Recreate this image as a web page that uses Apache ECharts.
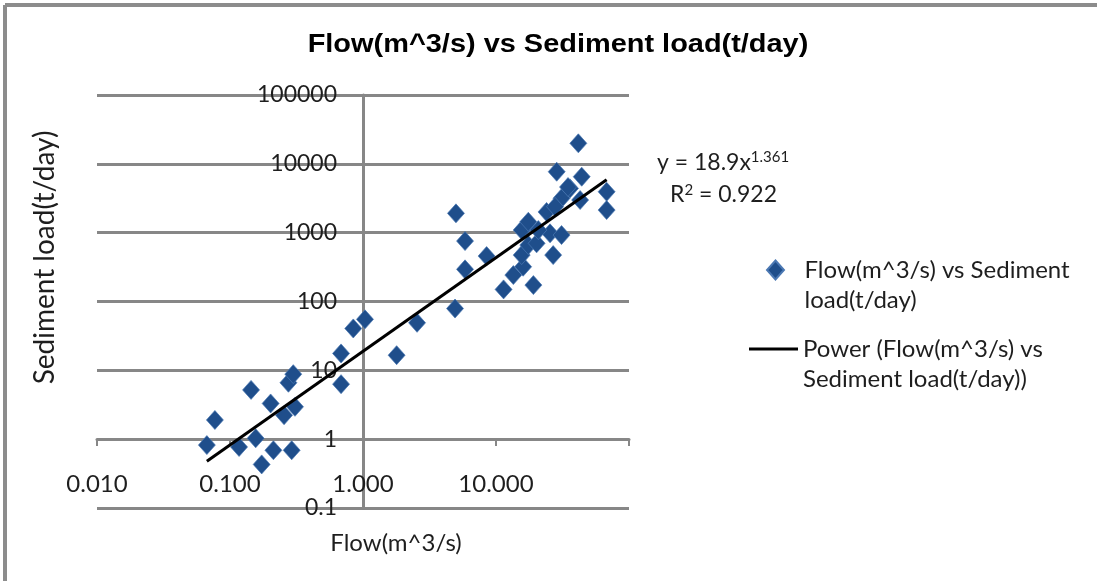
<!DOCTYPE html>
<html>
<head>
<meta charset="utf-8">
<script src="https://cdn.jsdelivr.net/npm/echarts@6/dist/echarts.min.js"></script>
<style>
  html, body { margin: 0; padding: 0; background: #ffffff; }
  #chart { width: 1097px; height: 581px; }
</style>
</head>
<body>
<div id="chart"></div>
<script>
// Measured flow (m^3/s) and sediment load (t/day) pairs
const flow = [
  0.067, 0.077, 0.117, 0.156, 0.144, 0.173, 0.202, 0.212, 0.255, 0.308,
  0.291, 0.275, 0.299, 0.684, 0.684, 0.845, 1.035, 1.79, 2.55, 4.92,
  5.85, 5.85, 5.0, 8.5, 11.4, 19.1, 13.5, 16.0, 15.6, 17.5,
  17.0, 15.6, 20.2, 24.0, 25.5, 26.9, 31.1, 28.6, 31.1, 36.0,
  41.6, 44.1, 42.9, 67.9, 67.9, 34.8, 27.8, 20.8, 17.5
];
const sediment = [
  0.82, 1.9, 0.77, 1.03, 5.2, 0.43, 3.3, 0.69, 2.23, 2.95,
  0.69, 6.6, 8.8, 6.3, 17.6, 40.6, 55, 16.6, 49, 79,
  293, 755, 1907, 457, 150, 173, 242, 320, 472, 660,
  1290, 1090, 700, 2000, 977, 472, 923, 7680, 3160, 4400,
  19860, 6500, 2980, 3930, 2130, 4600, 2380, 1090, 1440
];

// Power-law trendline y = a * x^b and its fit statistic
const trendCoef = 18.9;
const trendExp = 1.361;
const rSquared = 0.922;

// Axis decades and their labels
const xTicks = [0.01, 0.1, 1, 10, 100];
const xTickLabels = ['0.010', '0.100', '1.000', '10.000', ''];
const yTicks = [0.1, 1, 10, 100, 1000, 10000, 100000];
const yTickLabels = ['0.1', '1', '10', '100', '1000', '10000', '100000'];

const chartTitle = 'Flow(m^3/s) vs Sediment load(t/day)';
const scatterName = 'Flow(m^3/s) vs Sediment load(t/day)';
const trendName = 'Power (Flow(m^3/s) vs Sediment load(t/day))';
// Legend text wrapped over two lines; the leading blank line keeps the
// icon level with the first line of text.
const legendLines = {};
legendLines[scatterName] = '\nFlow(m^3/s) vs Sediment\nload(t/day)';
legendLines[trendName] = '\nPower (Flow(m^3/s) vs\nSediment load(t/day))';

function labelFor(ticks, labels, v) {
  let best = 0, bestD = Infinity;
  for (let i = 0; i < ticks.length; i++) {
    const d = Math.abs(Math.log10(ticks[i]) - Math.log10(v));
    if (d < bestD) { bestD = d; best = i; }
  }
  return labels[best];
}

const points = flow.map((f, i) => [f, sediment[i]]);
const xMinData = Math.min.apply(null, flow);
const xMaxData = Math.max.apply(null, flow);
const trendLine = [xMinData, xMaxData].map(x => [x, trendCoef * Math.pow(x, trendExp)]);

const gridGray = '#878787';
const textColor = '#1e1e1e';
const font = 'Lato, "Open Sans", sans-serif';
const pointColor = '#1f4e8b';

const legendText = { fontFamily: font, fontSize: 24, color: textColor, lineHeight: 30 };

const chart = echarts.init(document.getElementById('chart'), null, { renderer: 'canvas' });
chart.setOption({
  backgroundColor: '#ffffff',
  animation: false,
  grid: { left: 97, right: 468, top: 95, bottom: 73 },
  xAxis: {
    type: 'log', logBase: 10, min: 0.01, max: 100,
    offset: -69,
    name: 'Flow(m^3/s)', nameLocation: 'middle', nameGap: 92,
    nameTextStyle: { fontFamily: font, fontSize: 24, color: textColor, padding: [0, 0, 0, 66] },
    axisLine: { show: true, lineStyle: { color: gridGray, width: 3 } },
    axisTick: { show: true, length: 7, lineStyle: { color: gridGray, width: 2 } },
    axisLabel: {
      margin: 33, fontFamily: font, fontSize: 24, color: textColor,
      formatter: v => labelFor(xTicks, xTickLabels, v)
    },
    splitLine: { show: false }, minorTick: { show: false }
  },
  yAxis: {
    type: 'log', logBase: 10, min: 0.1, max: 100000,
    offset: -266,
    name: 'Sediment load(t/day)', nameLocation: 'middle', nameGap: 304,
    nameTextStyle: { fontFamily: font, fontSize: 28, color: textColor, padding: [0, 0, 0, 88] },
    axisLine: { show: true, lineStyle: { color: gridGray, width: 3 } },
    axisTick: { show: true, length: 7, lineStyle: { color: gridGray, width: 2 } },
    axisLabel: {
      margin: 26, fontFamily: font, fontSize: 23, color: textColor,
      formatter: v => labelFor(yTicks, yTickLabels, v)
    },
    splitLine: { show: true, lineStyle: { color: gridGray, width: 3 } }
  },
  legend: [
    {
      data: [{ name: scatterName, icon: 'path://M5,0L10,5.6L5,11.2L0,5.6Z' }],
      left: 766, top: 225, padding: 0, orient: 'vertical',
      itemWidth: 48, itemHeight: 19, symbolKeepAspect: true,
      formatter: n => legendLines[n],
      textStyle: legendText
    },
    {
      data: [{ name: trendName, icon: 'rect', itemStyle: { color: '#000' } }],
      left: 749, top: 304, padding: 0, orient: 'vertical',
      itemWidth: 49, itemHeight: 3,
      formatter: n => legendLines[n],
      textStyle: legendText
    }
  ],
  graphic: [
    { type: 'line', shape: { x1: 5, y1: 5, x2: 1097, y2: 5 }, style: { stroke: '#8c8c8c', lineWidth: 4 } },
    { type: 'line', shape: { x1: 5, y1: 5, x2: 5, y2: 581 }, style: { stroke: '#8c8c8c', lineWidth: 4 } },
    {
      type: 'text', x: 558, y: 45, scaleX: 1.157,
      style: {
        text: chartTitle, align: 'center', verticalAlign: 'middle',
        font: 'bold 25px "Liberation Sans", Arial, sans-serif', fill: '#000'
      }
    },
    {
      type: 'text', left: 657, top: 150,
      style: {
        text: '{b|y = ' + trendCoef + 'x}{s|' + trendExp + '}',
        rich: {
          b: { fontFamily: font, fontSize: 23, fill: textColor, verticalAlign: 'bottom' },
          s: { fontFamily: font, fontSize: 15, fill: textColor, verticalAlign: 'top', padding: [0, 0, 9, 0] }
        }
      }
    },
    {
      type: 'text', left: 670, top: 183,
      style: {
        text: '{b|R}{s|2}{b| = ' + rSquared + '}',
        rich: {
          b: { fontFamily: font, fontSize: 23, fill: textColor },
          s: { fontFamily: font, fontSize: 15, fill: textColor, padding: [0, 0, 9, 0] }
        }
      }
    }
  ],
  series: [
    {
      name: scatterName, type: 'scatter', data: points,
      symbol: 'diamond', symbolSize: [17, 19],
      itemStyle: { color: pointColor, opacity: 1, borderColor: '#4b78b3', borderWidth: 0.7 },
      z: 3
    },
    {
      name: trendName, type: 'line', data: trendLine,
      symbol: 'none', lineStyle: { color: '#000', width: 3 },
      itemStyle: { color: '#000' },
      z: 4
    }
  ]
});
</script>
</body>
</html>
